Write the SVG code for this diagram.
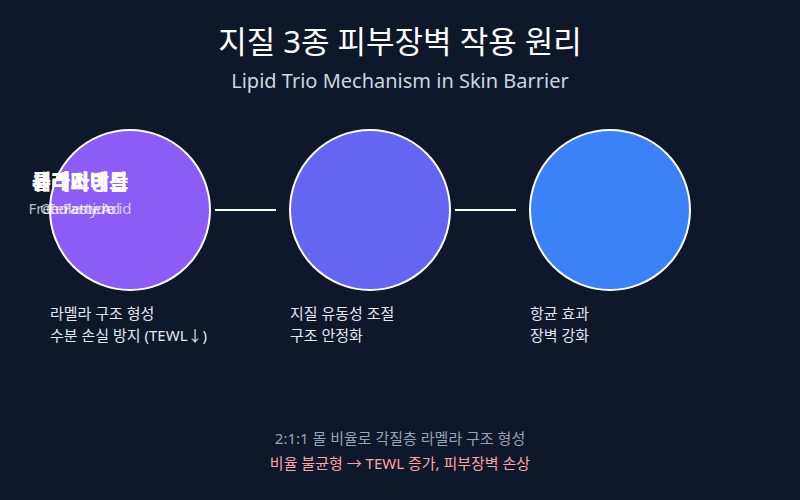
<svg xmlns="http://www.w3.org/2000/svg" width="800" height="500" viewBox="0 0 800 500">
<style>
text{font-family:"Noto Sans","Noto Sans CJK KR",sans-serif}
.title{font-size:31px;fill:#ffffff;text-anchor:middle}
.sub{font-size:20px;fill:#cbd5e1;text-anchor:middle}
.node{stroke:#ffffff;stroke-width:2}
.lbl{font-size:21px;font-weight:bold;fill:#ffffff;text-anchor:middle}
.en{font-size:15px;fill:#ffffff;fill-opacity:0.7;text-anchor:middle}
.desc{font-size:15px;fill:#e2e8f0}
.conn{stroke:#ffffff;stroke-width:2}
.note{font-size:15px;fill:#94a3b8;text-anchor:middle}
.warn{font-size:15px;fill:#fca5a5;text-anchor:middle}
</style>
<rect width="800" height="500" fill="#0f172a"/>
<text class="title" x="400" y="53">지질 3종 피부장벽 작용 원리</text>
<text class="sub" x="400" y="88">Lipid Trio Mechanism in Skin Barrier</text>
<g id="connectors">
<line class="conn" x1="215" y1="210" x2="276" y2="210"/>
<line class="conn" x1="455" y1="210" x2="516" y2="210"/>
</g>
<g id="node-ceramide">
<circle class="node" cx="130" cy="210" r="80" fill="#8b5cf6"/>
<text class="desc" x="50" y="319">라멜라 구조 형성</text>
<text class="desc" x="50" y="341">수분 손실 방지 (TEWL↓)</text>
</g>
<g id="node-cholesterol">
<circle class="node" cx="370" cy="210" r="80" fill="#6366f1"/>
<text class="desc" x="290" y="319">지질 유동성 조절</text>
<text class="desc" x="290" y="341">구조 안정화</text>
</g>
<g id="node-ffa">
<circle class="node" cx="610" cy="210" r="80" fill="#3b82f6"/>
<text class="desc" x="530" y="319">항균 효과</text>
<text class="desc" x="530" y="341">장벽 강화</text>
</g>
<g id="labels">
<text class="lbl" x="80" y="189">세라마이드</text>
<text class="en" x="80" y="214">Ceramide</text>
<text class="lbl" x="80" y="189">콜레스테롤</text>
<text class="en" x="80" y="214">Cholesterol</text>
<text class="lbl" x="80" y="189">유리지방산</text>
<text class="en" x="80" y="214">Free Fatty Acid</text>
</g>
<text class="note" x="400" y="444">2:1:1 몰 비율로 각질층 라멜라 구조 형성</text>
<text class="warn" x="400" y="469">비율 불균형 → TEWL 증가, 피부장벽 손상</text>
</svg>
